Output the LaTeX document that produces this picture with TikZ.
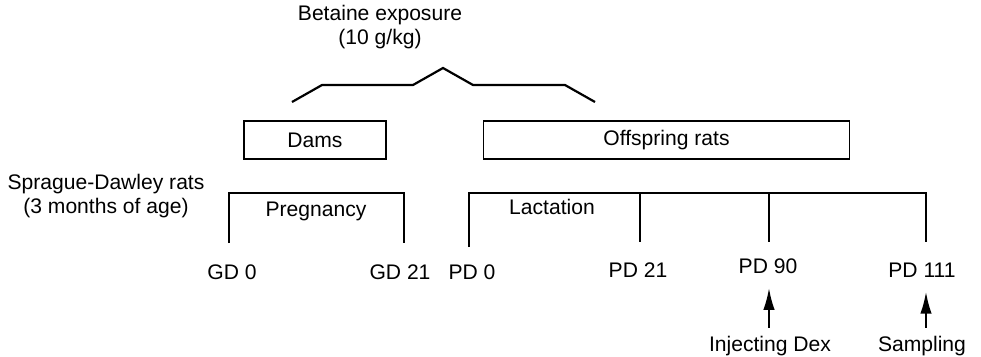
\documentclass[tikz,border=0pt]{standalone}
\usepackage{fontspec}
\setmainfont{Liberation Sans}
\usetikzlibrary{arrows.meta}
\pgfkeys{tikz/mylabel/.style={inner sep=0pt, 
                                  align=center, 
                                  font=\fontsize{12}{13.6}\selectfont}}
\pgfkeys{tikz/mybox/.style={draw, line width=0.6pt, 
                                minimum height=0.76cm, 
                                inner sep=0pt, 
                                font=\fontsize{12}{13.6}\selectfont}}
\pgfkeys{tikz/myline/.style={line width=1.25pt}}
\pgfkeys{tikz/myarrow/.style={line width=1.2pt, 
                                  -{Latex[length=12.5pt,width=6.5pt]}, 
                                  shorten <=4.5pt, 
                                  shorten >=8pt}}

\begin{document}
\begin{tikzpicture}[x=0.02cm,y=-0.02cm]
    \useasboundingbox (0,0) rectangle (981,356);
    % exposure
    \node [mylabel] (bet) at (380,27) {Betaine exposure\\(10 g/kg)};
    \draw [myline] (292,102) -- (322,85) -- (413,85) -- (443,68) -- (473,85) -- (565,85) -- (595,102);
    \node [mybox,minimum width=2.84cm] (dams) at (315,140) {Dams};
    \node [mybox,minimum width=7.34cm] (off) at (666.5,140) {Offspring rats};
    \node [mylabel] (sd) at (106,196) {Sprague-Dawley rats\\(3 months of age)};
    % timeline
    \draw [myline] (229,243) -- (229,193) -- (404,193) -- (404,243);
    \draw [myline] (469,247) -- (469,193) -- (926,193) -- (926,242);
    \foreach \x in {640,769}
        \draw [myline] (\x,193) -- (\x,242);
    \node [mylabel] (preg) at (316,211) {Pregnancy};
    \node [mylabel] (lact) at (552,207) {Lactation};
    \node [mylabel] (gd0) at (232,272) {GD 0};
    \node [mylabel] (gd21) at (400,272) {GD 21};
    \node [mylabel] (pd0) at (472,272) {PD 0};
    \node [mylabel] (pd21) at (638,270) {PD 21};
    \node [mylabel] (pd90) at (768,266) {PD 90};
    \node [mylabel] (pd111) at (922,270) {PD 111};
    \node [mylabel] (inj) at (770,346) {Injecting Dex};
    \node [mylabel] (samp) at (922,346) {Sampling};
    \draw [myarrow] ([xshift=-0.02cm]inj.north) -- ([xshift=-0.02cm]inj.north |- pd90.south);
    \draw [myarrow] ([xshift=0.08cm]samp.north) -- ([xshift=0.08cm]samp.north |- pd111.south);
\end{tikzpicture}
\end{document}
